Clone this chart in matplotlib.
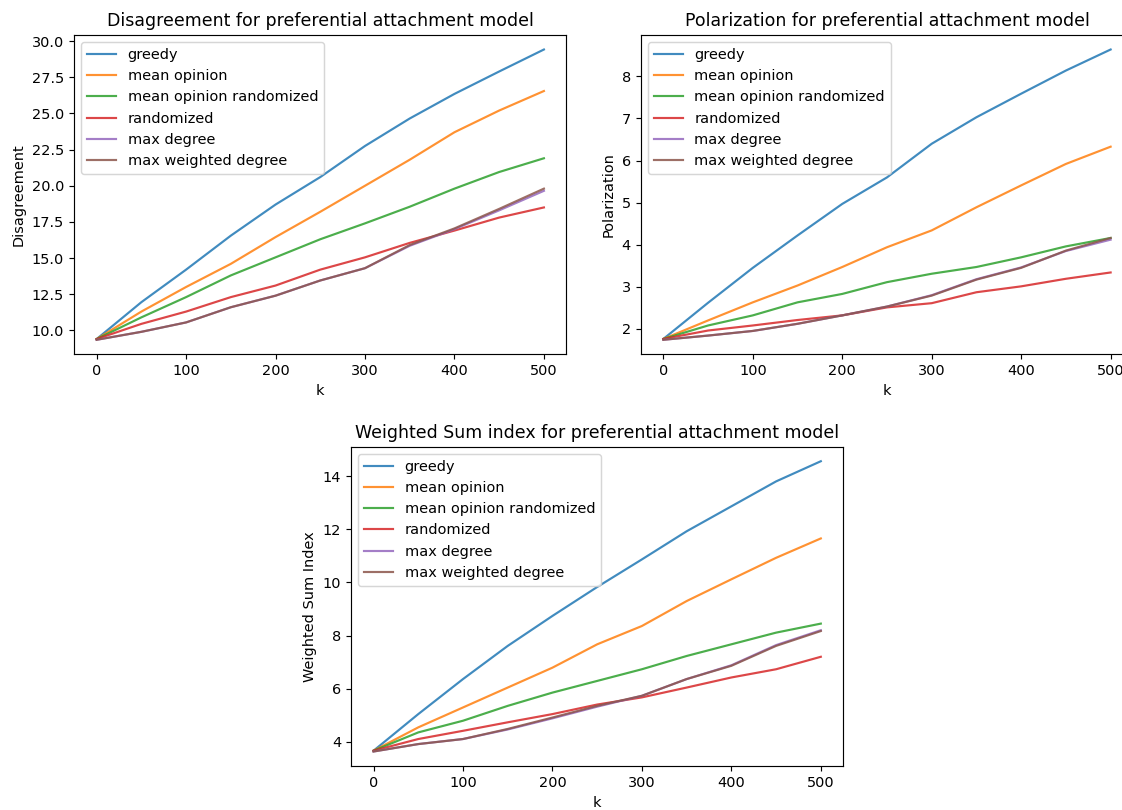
import matplotlib
matplotlib.use("Agg")
import matplotlib.pyplot as plt

# values at k = 0, 50, ..., 500
k = [0, 50, 100, 150, 200, 250, 300, 350, 400, 450, 500]
labels = ['greedy', 'mean opinion', 'mean opinion randomized',
          'randomized', 'max degree', 'max weighted degree']

# Disagreement
dis_greedy = [9.40, 11.95, 14.20, 16.55, 18.70, 20.60, 22.75, 24.65, 26.35, 27.90, 29.42]
dis_mean = [9.40, 11.30, 13.00, 14.60, 16.45, 18.20, 20.00, 21.80, 23.70, 25.20, 26.55]
dis_mean_rand = [9.40, 10.90, 12.30, 13.80, 15.05, 16.30, 17.40, 18.55, 19.80, 20.95, 21.90]
dis_rand = [9.40, 10.45, 11.30, 12.30, 13.10, 14.20, 15.05, 16.05, 16.90, 17.80, 18.50]
dis_maxdeg = [9.35, 9.90, 10.55, 11.60, 12.40, 13.45, 14.30, 15.85, 17.00, 18.30, 19.65]
dis_maxwdeg = [9.35, 9.90, 10.55, 11.60, 12.40, 13.45, 14.30, 15.90, 17.05, 18.40, 19.80]

# Polarization
pol_greedy = [1.76, 2.62, 3.45, 4.22, 4.97, 5.60, 6.40, 7.03, 7.59, 8.14, 8.64]
pol_mean = [1.76, 2.20, 2.63, 3.03, 3.47, 3.94, 4.34, 4.89, 5.41, 5.92, 6.33]
pol_mean_rand = [1.76, 2.08, 2.32, 2.63, 2.83, 3.11, 3.31, 3.47, 3.70, 3.96, 4.16]
pol_rand = [1.76, 1.96, 2.08, 2.21, 2.32, 2.51, 2.61, 2.87, 3.01, 3.19, 3.34]
pol_maxdeg = [1.74, 1.84, 1.95, 2.12, 2.32, 2.53, 2.80, 3.18, 3.46, 3.85, 4.12]
pol_maxwdeg = [1.74, 1.84, 1.95, 2.12, 2.32, 2.53, 2.79, 3.17, 3.45, 3.86, 4.16]

# Weighted Sum index
ws_greedy = [3.66, 5.04, 6.36, 7.61, 8.74, 9.83, 10.87, 11.93, 12.87, 13.81, 14.57]
ws_mean = [3.66, 4.54, 5.29, 6.04, 6.79, 7.67, 8.36, 9.30, 10.12, 10.93, 11.66]
ws_mean_rand = [3.66, 4.35, 4.79, 5.35, 5.85, 6.29, 6.73, 7.23, 7.67, 8.11, 8.45]
ws_rand = [3.66, 4.10, 4.41, 4.73, 5.04, 5.40, 5.67, 6.04, 6.42, 6.73, 7.20]
ws_maxdeg = [3.63, 3.91, 4.10, 4.46, 4.88, 5.32, 5.73, 6.36, 6.88, 7.64, 8.20]
ws_maxwdeg = [3.63, 3.91, 4.10, 4.48, 4.91, 5.35, 5.73, 6.36, 6.86, 7.61, 8.17]


def plot_panel(ax, series, title, ylabel):
    for y, lab in zip(series, labels):
        ax.plot(k, y, label=lab, alpha=0.85)
    ax.set_title(title)
    ax.set_xlabel('k')
    ax.set_ylabel(ylabel)
    ax.set_xticks([0, 100, 200, 300, 400, 500])
    ax.legend(loc='upper left')


fig = plt.figure(figsize=(1122 / 104, 810 / 104), dpi=104)
ax1 = fig.add_axes([0.0662, 0.5626, 0.4385, 0.3942])
ax2 = fig.add_axes([0.5713, 0.5626, 0.4385, 0.3942])
ax3 = fig.add_axes([0.3130, 0.0543, 0.4385, 0.3942])

plot_panel(ax1, [dis_greedy, dis_mean, dis_mean_rand, dis_rand, dis_maxdeg, dis_maxwdeg],
           'Disagreement for preferential attachment model', 'Disagreement')
plot_panel(ax2, [pol_greedy, pol_mean, pol_mean_rand, pol_rand, pol_maxdeg, pol_maxwdeg],
           'Polarization for preferential attachment model', 'Polarization')
plot_panel(ax3, [ws_greedy, ws_mean, ws_mean_rand, ws_rand, ws_maxdeg, ws_maxwdeg],
           'Weighted Sum index for preferential attachment model', 'Weighted Sum Index')

fig.savefig('out.png', dpi=104)
